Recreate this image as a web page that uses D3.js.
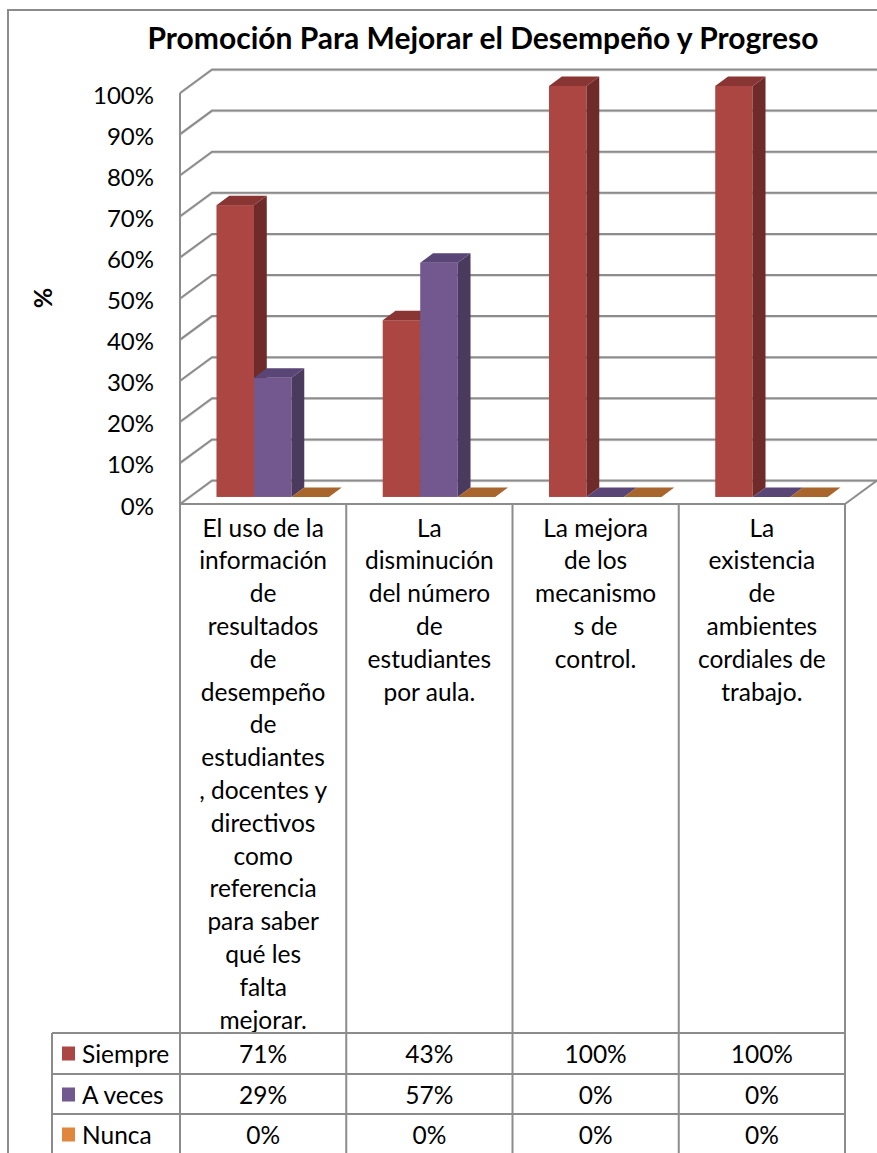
<!DOCTYPE html>
<html><head><meta charset="utf-8">
<script src="https://cdn.jsdelivr.net/npm/d3@7"></script>
<style>body{margin:0;background:#fff}</style></head>
<body><svg id="c" width="877" height="1153"></svg>
<script>
const title = "Promoción Para Mejorar el Desempeño y Progreso";
const yAxisTitle = "%";
const categories = [
  ["El uso de la","información","de","resultados","de","desempeño","de","estudiantes",", docentes y","directivos","como","referencia","para saber","qué les","falta","mejorar."],
  ["La","disminución","del número","de","estudiantes","por aula."],
  ["La mejora","de los","mecanismo","s de","control."],
  ["La","existencia","de","ambientes","cordiales de","trabajo."]
];
const seriesNames = ["Siempre","A veces","Nunca"];
const siempre = [0.71, 0.43, 1.00, 1.00];
const aVeces  = [0.29, 0.57, 0.00, 0.00];
const nunca   = [0.00, 0.00, 0.00, 0.00];
const tableLabels = [["71%","43%","100%","100%"],["29%","57%","0%","0%"],["0%","0%","0%","0%"]];
const yTicks = [0,0.1,0.2,0.3,0.4,0.5,0.6,0.7,0.8,0.9,1.0];

const seriesValues = [siempre, aVeces, nunca];
const colors = {
  front: ["#AB4642","#72588E","#B06A30"],
  side:  ["#6E2B29","#4A3A5E","#7A4820"],
  top:   ["#883533","#594676","#A8652C"],
  legend:["#AA4643","#71588F","#E0873E"]
};

const svg = d3.select("#c");
const FONT = "Lato, 'Open Sans', sans-serif";
const grid = "#8c8c8c";
const FS = 24.5;

// geometry
const fx0 = 180, fx1 = 845, fy0 = 504;
const DX = 32, DY = 23.5;
const h = d3.scaleLinear().domain([0,1]).range([0,411]);
const x = d3.scaleBand().domain(d3.range(categories.length)).range([fx0, fx1]).padding(0);
const xs = d3.scaleBand().domain(d3.range(seriesNames.length)).range([0, x.bandwidth()]).paddingInner(0).paddingOuter(0.717);
const P = (px, z, v) => [px + DX*z, fy0 - DY*z - h(v)];

// outer border
svg.append("path").attr("d","M8,1153 V10 H877").attr("fill","none").attr("stroke",grid).attr("stroke-width",2);

// title
svg.append("text").attr("x",483).attr("y",37).attr("text-anchor","middle").attr("dominant-baseline","central")
  .attr("font-family",FONT).attr("font-weight","bold").attr("font-size",30).attr("fill","#000").text(title);

// y axis title
svg.append("text").attr("transform","translate(42,298) rotate(-90)").attr("text-anchor","middle").attr("dominant-baseline","central")
  .attr("font-family",FONT).attr("font-weight","bold").attr("font-size",25).text(yAxisTitle);

// gridlines on back wall & left wall
const gl = svg.append("g").attr("fill","none");
yTicks.forEach(v => {
  const a = P(fx0,0,v), b = P(fx0,1,v), c = P(fx1,1,v);
  gl.append("path").attr("d",`M${a[0]},${a[1]+1}L${b[0]},${b[1]+1}L${c[0]},${c[1]+1}`).attr("stroke","#d4d4d4").attr("stroke-width",1.5);
  gl.append("path").attr("d",`M${a[0]},${a[1]}L${b[0]},${b[1]}L${c[0]},${c[1]}`).attr("stroke",grid).attr("stroke-width",2);
});
// floor right edge
{
  const a = P(fx1,0,0), b = P(fx1,1,0);
  gl.append("path").attr("d",`M${a[0]},${a[1]}L${b[0]},${b[1]}`).attr("stroke",grid).attr("stroke-width",2);
}
// front axis vertical
svg.append("line").attr("x1",fx0).attr("x2",fx0).attr("y1",P(fx0,0,1)[1]).attr("y2",fy0).attr("stroke",grid).attr("stroke-width",2);

// tick labels
svg.append("g").selectAll("text").data(yTicks).join("text")
  .attr("x",154).attr("y",d=>P(fx0,0,d)[1]+1).attr("text-anchor","end").attr("dominant-baseline","central")
  .attr("font-family",FONT).attr("font-size",24).attr("fill","#000").text(d=>d3.format(".0%")(d));

// bars
const z0 = 0.3, z1 = 0.7;
const bars = svg.append("g");
categories.forEach((cat, ci) => {
  seriesValues.forEach((vals, si) => {
    const v = vals[ci];
    const xa = x(ci) + xs(si) + DX*z0, xb = xa + xs.bandwidth();
    const yb = fy0 - DY*z0, yt = yb - h(v);
    const ddx = DX*(z1-z0), ddy = DY*(z1-z0);
    if (v > 0) {
      bars.append("rect").attr("x",xa).attr("y",yt).attr("width",xb-xa).attr("height",yb-yt).attr("fill",colors.front[si]);
      bars.append("path").attr("d",`M${xb},${yt}L${xb+ddx},${yt-ddy}L${xb+ddx},${yb-ddy}L${xb},${yb}Z`).attr("fill",colors.side[si]);
    }
    bars.append("path").attr("d",`M${xa},${yt}L${xb},${yt}L${xb+ddx},${yt-ddy}L${xa+ddx},${yt-ddy}Z`).attr("fill",colors.top[si]);
  });
});

// category labels
const lh = 32.8;
categories.forEach((lines, ci) => {
  svg.append("g").selectAll("text").data(lines).join("text")
    .attr("x", x(ci) + x.bandwidth()/2).attr("y",(d,i)=>527 + i*lh)
    .attr("text-anchor","middle").attr("dominant-baseline","central")
    .attr("font-family",FONT).attr("font-size",FS).attr("fill","#000").text(d=>d);
});

// table lines
const tl = svg.append("g").attr("stroke",grid).attr("stroke-width",2).attr("fill","none");
const rowY = [1033, 1074, 1114];
d3.range(categories.length+1).forEach(i => {
  const xx = i < categories.length ? x(i) : fx1;
  tl.append("line").attr("x1",xx).attr("x2",xx).attr("y1",fy0).attr("y2",1153);
});
tl.append("line").attr("x1",fx0).attr("x2",fx1).attr("y1",fy0).attr("y2",fy0);
rowY.forEach(y => tl.append("line").attr("x1",52).attr("x2",fx1).attr("y1",y).attr("y2",y));
tl.append("line").attr("x1",52).attr("x2",52).attr("y1",1033).attr("y2",1153);

// table content
seriesNames.forEach((name, si) => {
  const cy = rowY[si] + 20.5;
  svg.append("rect").attr("x",62).attr("y",cy-7).attr("width",13).attr("height",14).attr("fill",colors.legend[si]);
  svg.append("text").attr("x",82).attr("y",cy).attr("dominant-baseline","central")
    .attr("font-family",FONT).attr("font-size",FS).text(name);
  svg.append("g").selectAll("text").data(tableLabels[si]).join("text")
    .attr("x",(d,i)=>x(i)+x.bandwidth()/2).attr("y",cy).attr("text-anchor","middle").attr("dominant-baseline","central")
    .attr("font-family",FONT).attr("font-size",FS).text(d=>d);
});
</script></body></html>
